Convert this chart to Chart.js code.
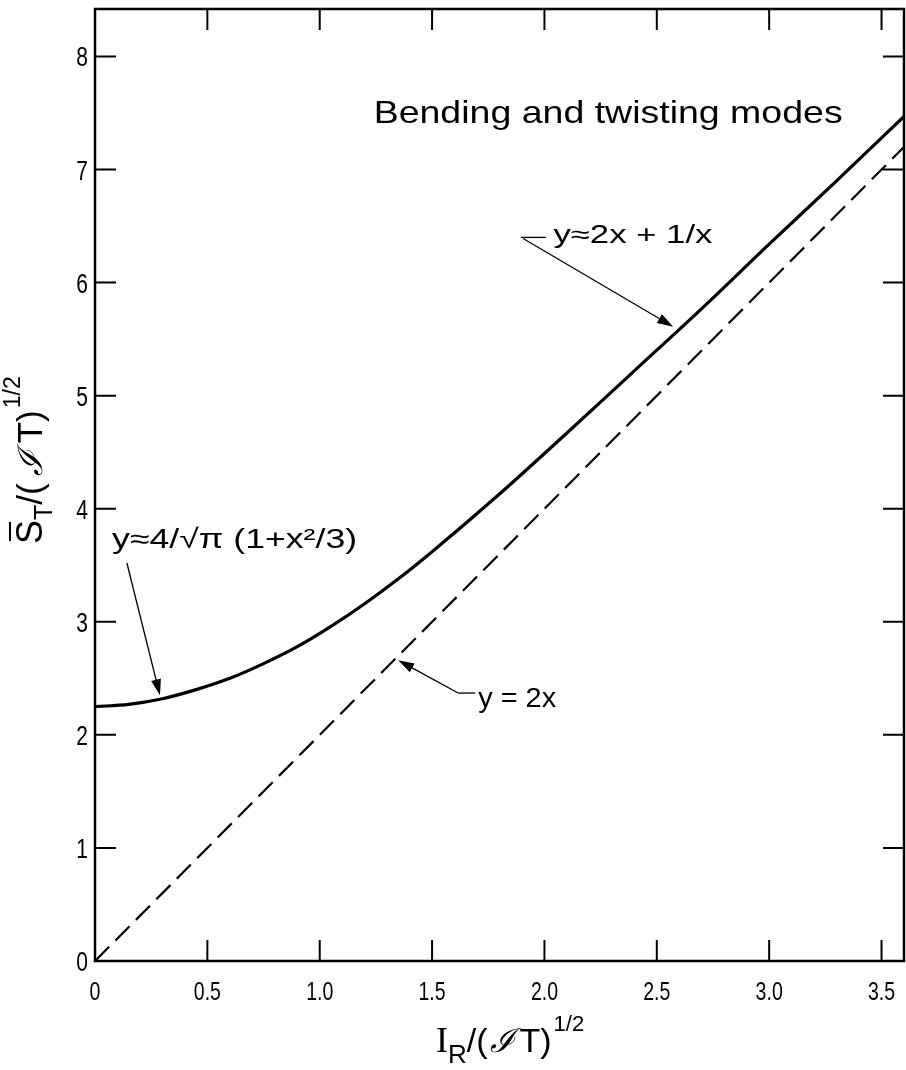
<!DOCTYPE html>
<html>
<head>
<meta charset="utf-8">
<script src="https://cdn.jsdelivr.net/npm/chart.js@4.4.0/dist/chart.umd.min.js"></script>
<style>
  body { margin: 0; background: #fff; }
  canvas { display: block; }
</style>
</head>
<body>
<canvas id="chart" width="906" height="1070"></canvas>
<script>
// values
const solidX = [0, 0.15, 0.3, 0.45, 0.6, 0.75, 0.9, 1.05, 1.2, 1.35, 1.5, 1.8, 2.1, 2.4, 2.7, 3.0, 3.3, 3.6];
const solidY = [2.25, 2.27, 2.32, 2.40, 2.50, 2.63, 2.78, 2.96, 3.16, 3.38, 3.62, 4.13, 4.67, 5.22, 5.77, 6.34, 6.90, 7.47];
const dashX = [0, 3.6];
const dashY = [0, 7.2];

const xTickValues = [0, 0.5, 1, 1.5, 2, 2.5, 3, 3.5];
const xTickLabels = ["0", "0.5", "1.0", "1.5", "2.0", "2.5", "3.0", "3.5"];
const yTickValues = [0, 1, 2, 3, 4, 5, 6, 7, 8];
const yTickLabels = ["0", "1", "2", "3", "4", "5", "6", "7", "8"];

const sans = '"Liberation Sans", Arial, sans-serif';

function toPoints(xs, ys) {
  return xs.map((x, i) => ({ x: x, y: ys[i] }));
}

function fitText(ctx, text, x, y, font, w) {
  ctx.save();
  ctx.font = font;
  const m = ctx.measureText(text).width;
  ctx.translate(x, y);
  ctx.scale(w / m, 1);
  ctx.textAlign = "left";
  ctx.textBaseline = "alphabetic";
  ctx.fillText(text, 0, 0);
  ctx.restore();
}

// narrow tick labels: squeeze the glyphs sideways
function condensed(ctx, text, x, y, font, sx, align, base) {
  ctx.save();
  ctx.font = font;
  ctx.translate(x, y);
  ctx.scale(sx, 1);
  ctx.textAlign = align;
  ctx.textBaseline = base;
  ctx.fillText(text, 0, 0);
  ctx.restore();
}

function arrow(ctx, x1, y1, x2, y2) {
  const a = Math.atan2(y2 - y1, x2 - x1);
  const len = 16, hw = 5;
  ctx.save();
  ctx.lineWidth = 1.3;
  ctx.beginPath();
  ctx.moveTo(x1, y1);
  ctx.lineTo(x2 - Math.cos(a) * len * 0.8, y2 - Math.sin(a) * len * 0.8);
  ctx.stroke();
  ctx.beginPath();
  ctx.moveTo(x2, y2);
  ctx.lineTo(x2 - Math.cos(a) * len + Math.sin(a) * hw, y2 - Math.sin(a) * len - Math.cos(a) * hw);
  ctx.lineTo(x2 - Math.cos(a) * len - Math.sin(a) * hw, y2 - Math.sin(a) * len + Math.cos(a) * hw);
  ctx.closePath();
  ctx.fill();
  ctx.restore();
}

// draw text pieces one after another
function runs(ctx, parts, x, y) {
  let cx = x;
  parts.forEach(p => {
    ctx.font = p.font;
    const w = ctx.measureText(p.t).width;
    ctx.fillText(p.t, cx, y + (p.dy || 0));
    if (p.bar) {
      ctx.save();
      ctx.lineWidth = 2;
      ctx.beginPath();
      ctx.moveTo(cx + 3, y - 32);
      ctx.lineTo(cx + w - 2, y - 32);
      ctx.stroke();
      ctx.restore();
    }
    cx += w + (p.gap || 0);
  });
  return cx - x;
}

const xTitle = [
  { t: "I", font: '36px "Liberation Serif", serif' },
  { t: "R", font: "26px " + sans, dy: 11 },
  { t: "/(", font: "34px " + sans, gap: 2 },
  { t: "ℐ", font: 'italic 33px "DejaVu Serif", serif', gap: 5 },
  { t: "T)", font: "34px " + sans, gap: 2 },
  { t: "1/2", font: "22px " + sans, dy: -21 }
];

const yTitle = [
  { t: "S", font: "36px " + sans, bar: true },
  { t: "T", font: "25px " + sans, dy: 10 },
  { t: "/(", font: "35px " + sans, gap: 7 },
  { t: "ℐ", font: 'italic 34px "DejaVu Serif", serif', gap: 8 },
  { t: "T)", font: "35px " + sans, gap: 2 },
  { t: "1/2", font: "23px " + sans, dy: -22 }
];

const decor = {
  id: "decor",
  afterDraw(chart) {
    const ctx = chart.ctx;
    const a = chart.chartArea;
    const xs = chart.scales.x, ys = chart.scales.y;
    const X = v => xs.getPixelForValue(v);
    const Y = v => ys.getPixelForValue(v);
    ctx.save();
    ctx.strokeStyle = "#000";
    ctx.fillStyle = "#000";

    // frame
    ctx.lineWidth = 2.5;
    ctx.strokeRect(a.left, a.top, a.right - a.left, a.bottom - a.top);

    // inward ticks on all four sides
    ctx.lineWidth = 2;
    ctx.beginPath();
    xTickValues.forEach(v => {
      const px = X(v);
      ctx.moveTo(px, a.bottom); ctx.lineTo(px, a.bottom - 21);
      ctx.moveTo(px, a.top); ctx.lineTo(px, a.top + 21);
    });
    yTickValues.forEach(v => {
      const py = Y(v);
      ctx.moveTo(a.left, py); ctx.lineTo(a.left + 21, py);
      ctx.moveTo(a.right, py); ctx.lineTo(a.right - 21, py);
    });
    ctx.stroke();

    // tick labels
    xTickValues.forEach((v, i) => {
      condensed(ctx, xTickLabels[i], X(v), a.bottom + 39, "25px " + sans, 0.78, "center", "alphabetic");
    });
    yTickValues.forEach((v, i) => {
      condensed(ctx, yTickLabels[i], a.left - 7, Y(v) + 10, "28px " + sans, 0.75, "right", "alphabetic");
    });

    // annotations
    fitText(ctx, "Bending and twisting modes", X(1.24), Y(7.41), "32px " + sans, 469);

    ctx.lineWidth = 1.3;
    ctx.beginPath();
    ctx.moveTo(X(1.895), Y(6.40)); ctx.lineTo(X(2.006), Y(6.40));
    ctx.stroke();
    arrow(ctx, X(1.905), Y(6.39), X(2.573), Y(5.61));
    fitText(ctx, "y≈2x + 1/x", X(2.04), Y(6.35), "25px " + sans, 159);

    arrow(ctx, X(0.142), Y(3.52), X(0.289), Y(2.35));
    fitText(ctx, "y≈4/√π (1+x²/3)", X(0.076), Y(3.65), "27px " + sans, 245);

    ctx.lineWidth = 1.3;
    ctx.beginPath();
    ctx.moveTo(X(1.616), Y(2.37)); ctx.lineTo(X(1.692), Y(2.37));
    ctx.stroke();
    arrow(ctx, X(1.616), Y(2.37), X(1.349), Y(2.66));
    fitText(ctx, "y = 2x", X(1.705), Y(2.245), "27px " + sans, 78);

    // axis titles
    ctx.textAlign = "left";
    ctx.textBaseline = "alphabetic";
    runs(ctx, xTitle, 436, 1052);

    ctx.save();
    ctx.translate(42, 544);
    ctx.rotate(-Math.PI / 2);
    runs(ctx, yTitle, 0, 0);
    ctx.restore();

    ctx.restore();
  }
};

new Chart(document.getElementById("chart"), {
  type: "scatter",
  data: {
    datasets: [
      {
        data: toPoints(solidX, solidY),
        showLine: true,
        borderColor: "#000",
        borderWidth: 3.2,
        pointRadius: 0,
        cubicInterpolationMode: "monotone"
      },
      {
        data: toPoints(dashX, dashY),
        showLine: true,
        borderColor: "#000",
        borderWidth: 2.2,
        borderDash: [20, 9],
        pointRadius: 0
      }
    ]
  },
  options: {
    responsive: false,
    animation: false,
    devicePixelRatio: 1,
    layout: { padding: { top: 9, right: 2, left: 0, bottom: 0 } },
    plugins: { legend: { display: false }, tooltip: { enabled: false } },
    scales: {
      x: {
        type: "linear",
        min: 0,
        max: 3.6,
        grid: { display: false },
        border: { display: false },
        afterBuildTicks: s => { s.ticks = xTickValues.map(v => ({ value: v })); },
        afterFit: s => { s.height = 109; s.paddingLeft = 0; s.paddingRight = 0; },
        ticks: { display: false }
      },
      y: {
        type: "linear",
        min: 0,
        max: 8.42,
        grid: { display: false },
        border: { display: false },
        afterBuildTicks: s => { s.ticks = yTickValues.map(v => ({ value: v })); },
        afterFit: s => { s.width = 95; s.paddingTop = 0; s.paddingBottom = 0; },
        ticks: { display: false }
      }
    }
  },
  plugins: [decor]
});
</script>
</body>
</html>
